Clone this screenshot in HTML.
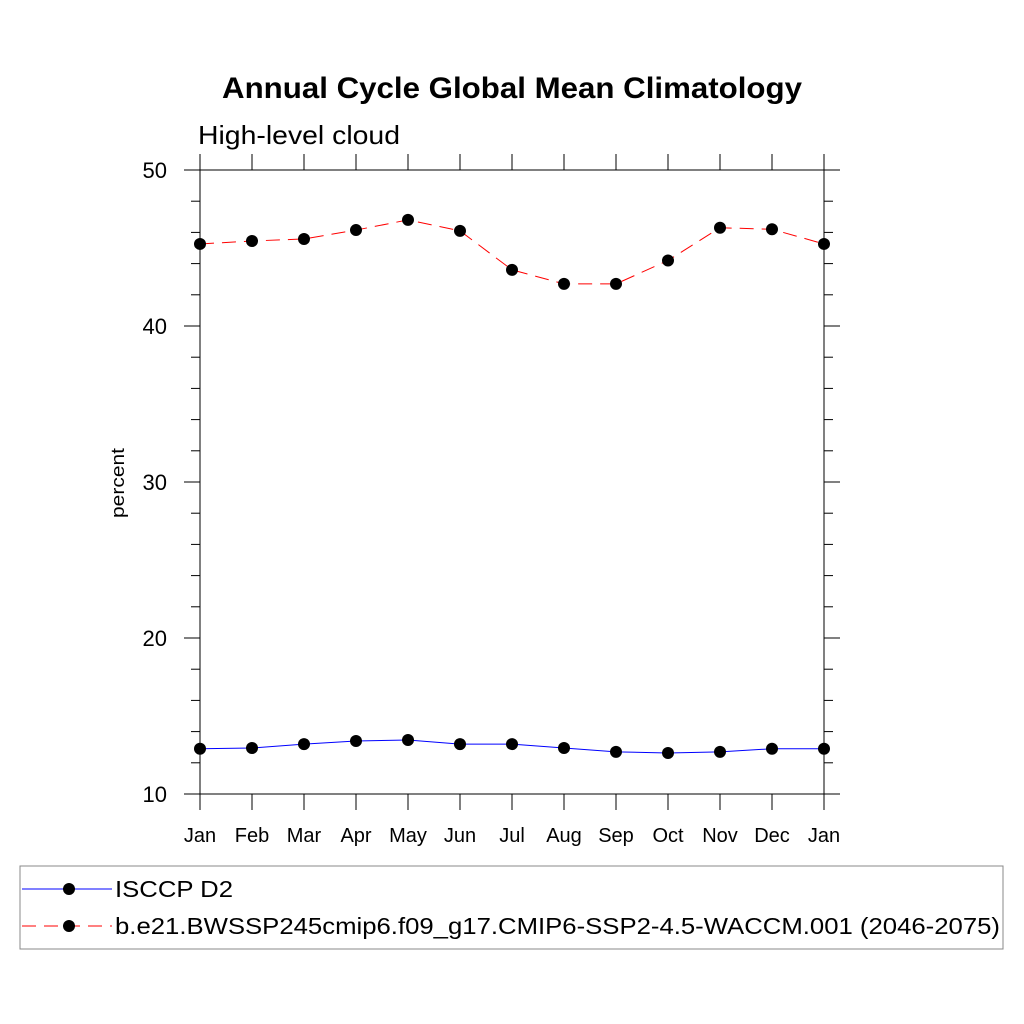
<!DOCTYPE html>
<html><head><meta charset="utf-8"><style>body{margin:0;background:#fff}svg{display:block;font-family:"Liberation Sans",sans-serif}</style></head>
<body>
<svg id="c" width="1024" height="1024" viewBox="0 0 1024 1024">
<text x="222" y="98" textLength="580" lengthAdjust="spacingAndGlyphs" font-size="30" font-weight="bold">Annual Cycle Global Mean Climatology</text>
<text x="198" y="144" textLength="202" lengthAdjust="spacingAndGlyphs" font-size="26">High-level cloud</text>
<text transform="translate(124,483) rotate(-90)" text-anchor="middle" textLength="70" lengthAdjust="spacingAndGlyphs" font-size="18">percent</text>
<g id="axes"></g><g id="series"></g>
<rect x="20" y="866" width="983" height="83" fill="none" stroke="#888" stroke-width="1"/>
<g><line x1="22" y1="889" x2="112" y2="889" stroke="blue" stroke-width="1"/><circle cx="69" cy="889" r="6"/><text x="115" y="897" font-size="23" textLength="118" lengthAdjust="spacingAndGlyphs">ISCCP D2</text></g>
<g><line x1="22" y1="926" x2="112" y2="926" stroke="red" stroke-width="1" stroke-dasharray="14,8"/><circle cx="69" cy="926" r="6"/><text x="115" y="934" font-size="23" textLength="885" lengthAdjust="spacingAndGlyphs">b.e21.BWSSP245cmip6.f09_g17.CMIP6-SSP2-4.5-WACCM.001 (2046-2075)</text></g>
</svg>
<script>
const months=["Jan","Feb","Mar","Apr","May","Jun","Jul","Aug","Sep","Oct","Nov","Dec","Jan"];
const yTicks=[10,20,30,40,50];
const isccp=[12.9,12.95,13.2,13.4,13.46,13.2,13.2,12.95,12.7,12.63,12.7,12.9,12.9];
const model=[45.26,45.45,45.58,46.15,46.8,46.1,43.6,42.7,42.7,44.2,46.3,46.2,45.26];
const NS="http://www.w3.org/2000/svg";
const X0=200,X1=824,Y0=794,Y1=170;
const xs=i=>X0+i*(X1-X0)/(months.length-1);
const ys=v=>Y0-(v-10)*(Y0-Y1)/40;
function mk(t,a,p){const e=document.createElementNS(NS,t);for(const k in a)e.setAttribute(k,a[k]);p.appendChild(e);return e;}
const ax=document.getElementById('axes');
const fr=mk('rect',{x:X0,y:Y1,width:X1-X0,height:Y0-Y1,fill:'none',stroke:'#000','stroke-width':1},ax);


months.forEach((m,i)=>{const x=xs(i);
mk('line',{x1:x,y1:Y0,x2:x,y2:Y0+16,stroke:'#000'},ax);
mk('line',{x1:x,y1:Y1,x2:x,y2:Y1-16,stroke:'#000'},ax);
const t=mk('text',{x:x,y:Y0+48,'text-anchor':'middle','font-size':20},ax);t.textContent=m;

});
for(let v=10;v<=50;v+=2){const y=ys(v);const L=(v%10===0)?16:9;
mk('line',{x1:X0-L,y1:y,x2:X0,y2:y,stroke:'#000'},ax);
mk('line',{x1:X1,y1:y,x2:X1+L,y2:y,stroke:'#000'},ax);}
yTicks.forEach(v=>{const t=mk('text',{x:167,y:ys(v)+8,'text-anchor':'end','font-size':22},ax);t.textContent=v;

});
const sg=document.getElementById('series');
function draw(d,col,dash,name){
const pl=mk('polyline',{points:d.map((v,i)=>xs(i)+','+ys(v)).join(' '),fill:'none',stroke:col,'stroke-width':1,'stroke-dasharray':dash},sg);


d.forEach((v,i)=>{const c=mk('circle',{cx:xs(i),cy:ys(v),r:6,fill:'#000'},sg);

});}
draw(isccp,'blue','none','isccp');
draw(model,'red','14,8','model');
</script>
</body></html>
